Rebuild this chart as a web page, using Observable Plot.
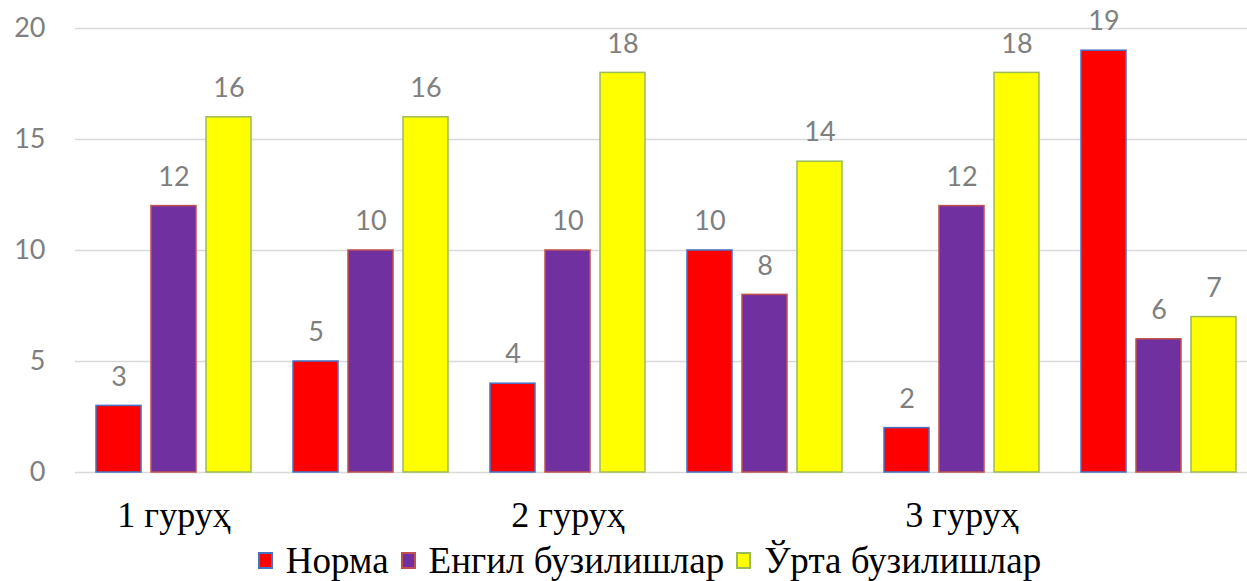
<!DOCTYPE html>
<html>
<head>
<meta charset="utf-8">
<script src="https://cdn.jsdelivr.net/npm/d3@7"></script>
<script src="https://cdn.jsdelivr.net/npm/@observablehq/plot@0.6"></script>
<style>
  html, body { margin: 0; padding: 0; background: #fff; overflow: hidden; }
  #chart { width: 1247px; height: 581px; position: relative; }
  .legend { display: flex; justify-content: center; align-items: center; height: 41px;
    font-family: "Liberation Serif", "Times New Roman", serif; font-size: 37px; color: #000;
    transform: translateX(26px); white-space: nowrap; }
  .legend .item { display: flex; align-items: center; margin: 0 6px; }
  .legend .sw { width: 11px; height: 13px; border: 2px solid; margin-right: 13px; box-sizing: content-box; }
</style>
</head>
<body>
<div id="chart"></div>
<script>
const groups = ["g1", "g2", "g3", "g4", "g5", "g6"];
const groupLabels = ["1 гуруҳ", "", "2 гуруҳ", "", "3 гуруҳ", ""];
const series = ["Норма", "Енгил бузилишлар", "Ўрта бузилишлар"];
const normaValues = [3, 5, 4, 10, 2, 19];
const engilValues = [12, 10, 10, 8, 12, 6];
const urtaValues = [16, 16, 18, 14, 18, 7];
const fills = ["#FF0000", "#7030A0", "#FFFF00"];
const strokes = ["#4472C4", "#C0504D", "#9BBB59"];
const yTicks = [0, 5, 10, 15, 20];

const seriesValues = [normaValues, engilValues, urtaValues];
const data = [];
groups.forEach((g, i) => {
  series.forEach((s, j) => {
    data.push({group: g, series: s, value: seriesValues[j][i]});
  });
});

const labelOf = new Map(groups.map((g, i) => [g, groupLabels[i]]));
const sansFont = "Lato, 'Liberation Sans', sans-serif";
const serifFont = "'Liberation Serif', 'Times New Roman', serif";

const plot = Plot.plot({
  width: 1247,
  height: 540,
  marginTop: 28,
  marginBottom: 68,
  marginLeft: 75,
  marginRight: -10,
  style: {background: "#fff", overflow: "visible"},
  fx: {domain: groups, padding: 0, label: null},
  x: {domain: series, paddingInner: 10 / 55, paddingOuter: 21 / 55, axis: null},
  y: {domain: [0, 20], label: null},
  marks: [
    Plot.gridY(yTicks, {stroke: "#d9d9d9", strokeOpacity: 1, strokeWidth: 1.5}),
    Plot.axisY(yTicks, {tickSize: 0, tickPadding: 30, fontSize: 27, fill: "#7f7f7f",
      fontFamily: sansFont, label: null}),
    Plot.axisFx({anchor: "bottom", tickSize: 0, tickPadding: 29, fontSize: 36,
      fontFamily: serifFont, fill: "#000",
      tickFormat: d => labelOf.get(d), label: null}),
    Plot.barY(data, {fx: "group", x: "series", y: "value",
      fill: d => fills[series.indexOf(d.series)],
      stroke: d => strokes[series.indexOf(d.series)], strokeWidth: 1.5}),
    Plot.text(data, {fx: "group", x: "series", y: "value", text: d => String(d.value),
      dy: -29, fontSize: 27, fill: "#7f7f7f", fontFamily: sansFont})
  ]
});

const chart = document.getElementById("chart");
chart.appendChild(plot);

const legend = document.createElement("div");
legend.className = "legend";
series.forEach((s, j) => {
  const item = document.createElement("div");
  item.className = "item";
  const sw = document.createElement("span");
  sw.className = "sw";
  sw.style.background = fills[j];
  sw.style.borderColor = strokes[j];
  const t = document.createElement("span");
  t.textContent = s;
  item.appendChild(sw);
  item.appendChild(t);
  legend.appendChild(item);
});
chart.appendChild(legend);
</script>
</body>
</html>
